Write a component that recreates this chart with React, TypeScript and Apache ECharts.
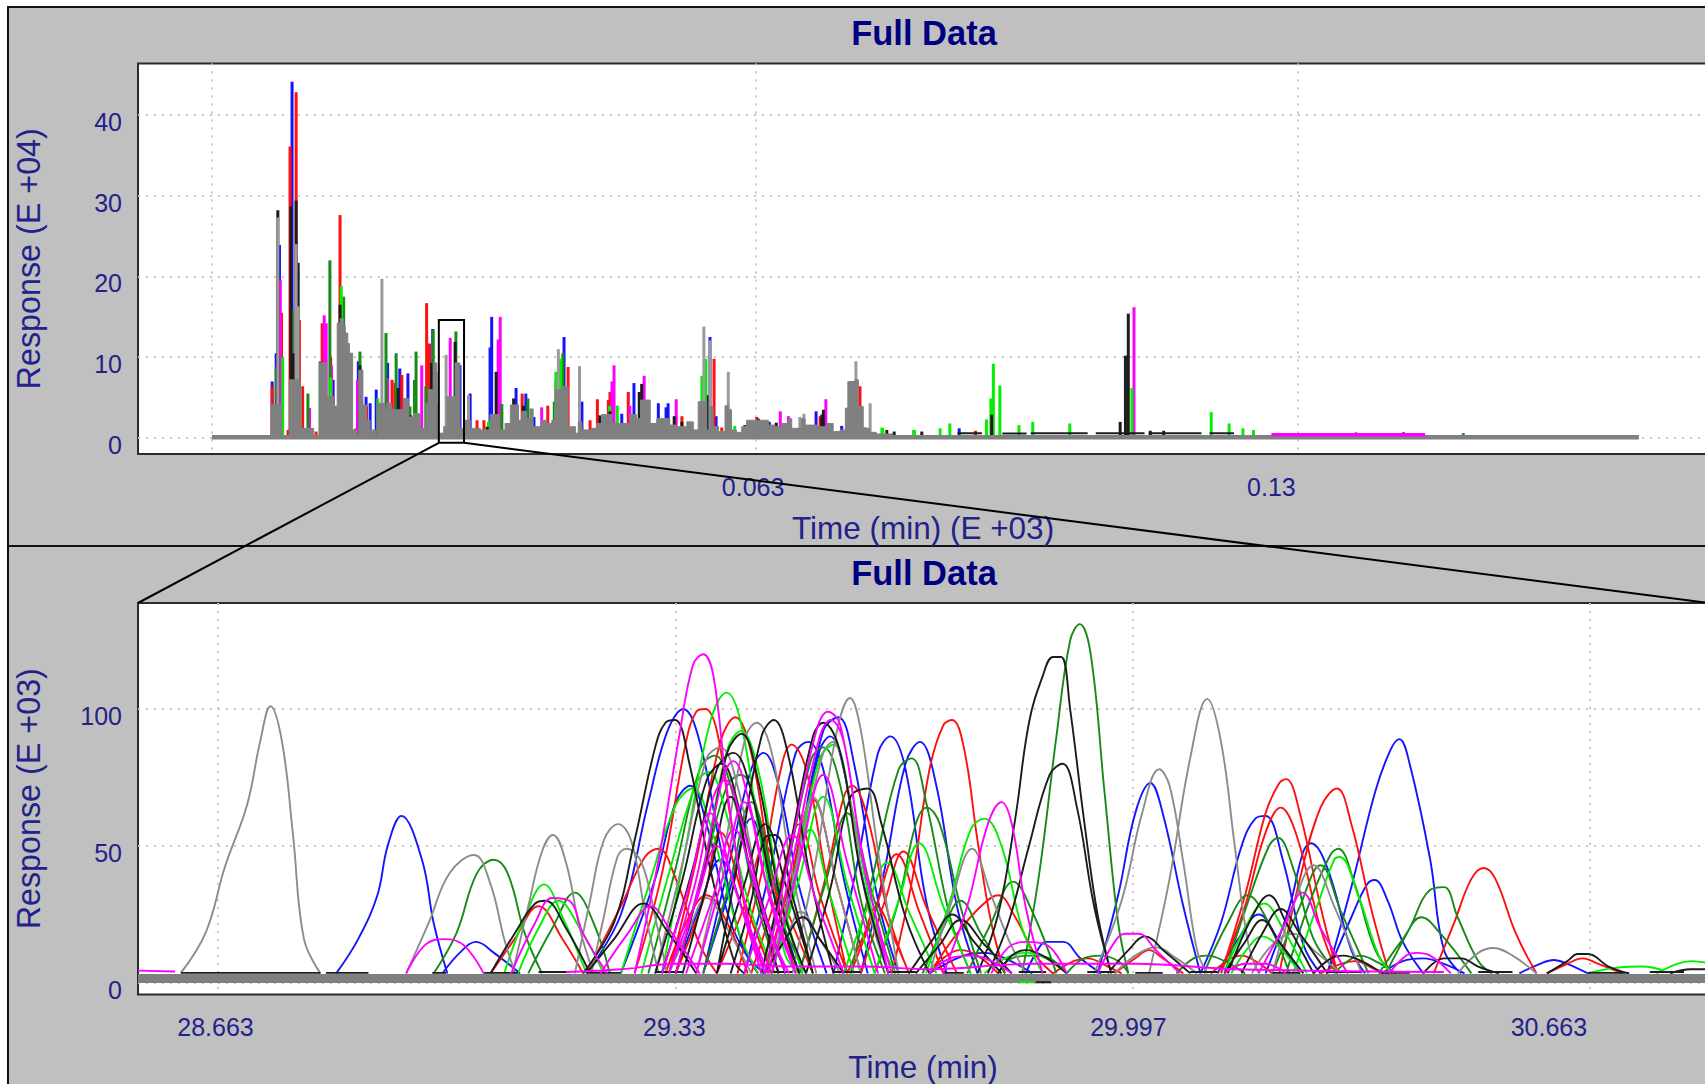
import React, { useEffect, useRef } from "react";
import * as echarts from "echarts";

type Pt = [number, number];

// ---------- upper plot: time in minutes, response in E+04 ----------
const topXTicks = [-3.7, 63.2, 129.9];
const topXLabelAt = [62.85, 126.6];
const topXLabels = ["0.063", "0.13"];
const topYTicks = [0, 10, 20, 30, 40];
const topYLabelAt = [-0.85, 9.15, 19.15, 29.15, 39.15];
const topYLabels = ["0", "10", "20", "30", "40"];
const zoomWindow = { x0: 24.2, x1: 27.3, y0: -0.6, y1: 14.6 };

const topBlue: Pt[] = [[3.7,7],[4.2,10.5],[4.6,23.9],[6.15,44.1],[14.3,9.5],[11.2,7.2],[17.9,9.3],[16.5,6],[19.4,8.6],[20.4,8],[23.45,13.5],[26.8,9],[15.75,4.3],[15.25,5.1],[28.05,5.5],[30.7,15],[30.5,11.2],[33.7,6.2],[34.9,5.5],[35.9,2.6],[39.6,12.5],[41.8,4.5],[48.2,6.8],[51.2,4.3],[52.15,3.8],[52.4,4.3],[46.7,3],[57.55,12.5],[58.3,2.7],[70.6,3.3],[64.85,2],[73.75,1.5],[88.2,1.2]];
const topRed: Pt[] = [[3.7,6.4],[4.85,15.5],[5.9,36.1],[6.65,42.8],[7.05,14.6],[7.45,6.4],[9.85,14.2],[12.05,27.6],[10.9,10],[22.7,16.7],[23.05,11.7],[18.45,7.2],[19.65,7.8],[18.8,6.8],[5.65,1],[13.5,1],[14,1.2],[15.3,3.9],[9.1,0.8],[24,2.9],[28.9,2.2],[29.75,2.2],[34.45,5.5],[37.6,4],[40.1,8.8],[43.7,4.8],[47.5,5.7],[45.05,4.7],[45.25,5.7],[42.8,2.2],[54.1,2.7],[58.05,9.8],[59,1.3],[76,6.4],[63.3,2.6],[71.1,2.7],[90.2,0.9]];
const topMagenta: Pt[] = [[4.7,19.6],[10.1,15.2],[10.35,14.2],[11,9],[8.3,3.7],[14.2,7.2],[14.7,8.4],[17.9,7.4],[22.1,9],[25.6,12.4],[6.8,16.3],[31.75,15],[31.5,12.2],[36.85,3.8],[38.6,7.2],[45.75,9],[45.5,7],[47.7,4],[49.45,7.7],[53.4,4.8],[60,3.6],[66.2,3.3],[67.2,2.7],[71.8,4.8],[76.4,1.3],[76.7,1.3],[109.7,16.2]];
const topGreen: Pt[] = [[4.2,8.8],[6.15,15.9],[8.1,5.5],[9.6,9.5],[10.8,22],[12.5,17.5],[14.5,10.7],[17.7,13],[18.95,10.5],[21.4,10.7],[21.2,7.2],[20.65,3.9],[22.6,6.4],[23.5,13.4],[23.85,8.2],[26.3,13.2],[31.95,4.2],[38.4,4.5],[39.45,10.5],[39.05,9.8],[35.15,4.9],[57.75,2.9],[75,5.5],[137,0.7],[150.2,0.6]];
const topLime: Pt[] = [[5,10],[11.55,4],[12.2,18.8],[10.9,7.5],[16.7,4.9],[30.3,2],[38.6,8.2],[39.2,9.8],[45.2,4],[46.15,4],[56.55,7.7],[57.05,9.8],[60.6,1.5],[74.8,5.5],[78.7,1.3],[82.6,1],[92.4,9.2],[92.1,4.9],[93.2,6.5],[91.55,2.3],[87.05,1.8],[85.85,1.2],[97.25,2],[95.55,1.6],[101.8,1.8],[109.45,6.2],[119.2,3.2],[121.4,1.8],[124.4,1],[123.1,1.2],[78.8,1.2],[82.7,1]];
const topBlack: Pt[] = [[4.4,28.2],[6,28.7],[6.65,29.4],[6.9,21.7],[6.3,10.5],[14.5,9],[16.8,4.1],[12.05,16.5],[17.45,4.1],[20.15,4.7],[19.2,6.2],[20.75,2.8],[23.3,9.3],[26.2,11.9],[27.55,2.2],[31.25,8.2],[33.4,4.9],[34.6,4],[49.15,6.7],[48.85,5.7],[44,2.8],[45.25,3.3],[53.15,2.7],[54.1,2],[30.15,1.4],[57.35,5.3],[61.85,1.6],[63.5,2.4],[65.7,1.9],[66.9,1.5],[71.5,3.5],[71.3,2.9],[70.1,1],[76.2,1],[79.3,1],[80.2,0.8],[83.6,0.8],[109,15.4],[108.65,10.2],[92.2,2.9],[111.7,0.9],[113.35,0.9],[108,2],[142.85,0.7]];
const topGreySticks: Pt[] = [[4.4,27.3],[6.65,24],[6.9,16.3],[17.2,19.7],[25.1,10.3],[27.85,5.3],[56.8,13.8],[57.55,12.1],[41.5,8.9],[38.9,11],[59.8,8.2],[69.1,3],[68.6,2.6],[74.6,7],[75.5,9.5],[77.25,4.3]];
const topGreyEnvelope: Pt[] = [[3.5,4.1],[4.9,0.3],[5.8,7.2],[7.1,6.4],[7.3,1.2],[8.8,0.3],[9.5,9.3],[10.4,5.1],[11.3,3.9],[11.7,14.2],[12.05,14.8],[12.5,13.8],[12.7,13],[13,11.7],[13.2,10.5],[13.6,1],[14.1,0.3],[14.35,8.4],[14.85,4.1],[15.3,2.2],[15.75,1],[16.4,0.3],[16.6,4.3],[17.6,3.5],[17.8,4.3],[18.4,3.5],[19.85,4.9],[20.5,2.6],[21.1,3],[21.9,1.2],[22.6,4.3],[22.9,6],[23.5,9.3],[23.95,4.3],[24.15,0.6],[24.8,1.4],[25.2,5.1],[26.2,9.3],[26.8,1.2],[27.4,2.2],[28.05,1.2],[29.3,1],[30.5,2.9],[31.7,1],[32.35,1.8],[33,4.1],[34,2.2],[34.4,3.3],[35,2.4],[35.4,3.6],[35.8,1.4],[36.85,2.2],[37.5,1.8],[38.1,2.2],[38.5,6],[39.3,6.4],[40.1,1.4],[41,0.6],[41.35,2],[41.8,1],[43,1.2],[43.6,1.8],[44.2,2.9],[45.5,1.8],[47.7,2.9],[48.5,2.4],[49,4.7],[50.2,1.8],[51,2.4],[52.6,1.6],[53.5,1.4],[54.7,2],[55.5,1],[56.1,4.5],[57.15,1],[57.55,3.9],[57.95,1.4],[58.6,0.8],[59.4,4],[59.8,3.4],[60.2,1],[60.8,0.7],[61.45,1.4],[62.05,2.2],[64.75,1.6],[65.55,1.4],[66.4,1.8],[67.2,2.4],[67.6,1.2],[68.8,2.4],[69.25,1.6],[70.7,1.4],[71.9,1.8],[72.7,0.8],[73.55,1],[74.2,3.7],[74.6,7],[75.4,7.2],[75.8,3.9],[76.4,1.2],[77.2,0.7],[78,0.5],[80,0.3]];
const topGreyBaseline: Pt[] = [[-3.7,0.1],[171.8,0.1]];
const topMagentaBaseline: Pt[] = [[126.6,0.4],[145.5,0.4]];
const topBlackBaseline: Pt[][] = [[[88,0.6],[91,0.6]],[[93.5,0.55],[96.5,0.55]],[[97,0.6],[104,0.6]],[[105,0.6],[111,0.6]],[[111.5,0.6],[118,0.6]],[[119,0.6],[122,0.6]]];

// ---------- lower plot: time in minutes, response in E+03 ----------
const lowXTicks = [28.663, 29.33, 29.997, 30.663];
const lowXLabelAt = [28.659, 29.328, 29.99, 30.603];
const lowXLabels = ["28.663", "29.33", "29.997", "30.663"];
const lowYTicks = [0, 50, 100];
const lowYLabelAt = [-2.6, 47.4, 97.4];
const lowYLabels = ["0", "50", "100"];

const lowBlue: Pt[][] = [
  [[28.835,3.5],[28.867,16],[28.895,32],[28.91,50],[28.93,61],[28.96,45],[28.977,22],[28.997,3.5]],
  [[28.99,3.5],[29.015,11],[29.039,15],[29.065,11],[29.103,3.5]],
  [[29.2,3.5],[29.25,25],[29.29,66],[29.318,92],[29.341,100],[29.365,88],[29.395,50],[29.43,12],[29.46,3.5]],
  [[29.25,3.5],[29.3,38],[29.33,66],[29.351,72],[29.375,58],[29.41,22],[29.45,3.5]],
  [[29.37,3.5],[29.41,46],[29.44,78],[29.458,84],[29.48,72],[29.51,35],[29.55,3.5]],
  [[29.43,3.5],[29.47,44],[29.505,84],[29.523,88],[29.545,78],[29.575,38],[29.61,3.5]],
  [[29.47,3.5],[29.51,50],[29.545,92],[29.567,97],[29.59,80],[29.625,30],[29.655,3.5]],
  [[29.47,3.5],[29.515,55],[29.54,85],[29.555,90],[29.575,78],[29.605,35],[29.64,3.5]],
  [[29.56,3.5],[29.595,44],[29.625,84],[29.643,90],[29.665,78],[29.695,30],[29.725,3.5]],
  [[29.6,3.5],[29.635,42],[29.665,80],[29.686,88],[29.71,72],[29.74,28],[29.77,3.5]],
  [[29.33,3.5],[29.365,28],[29.395,45],[29.43,25],[29.46,3.5]],
  [[29.37,3.5],[29.41,35],[29.44,60],[29.47,35],[29.51,3.5]],
  [[29.7,3.5],[29.75,10],[29.78,11],[29.81,9],[29.85,3.5]],
  [[29.84,3.5],[29.86,13],[29.87,15],[29.895,15],[29.92,9],[29.95,3.5]],
  [[29.945,3.5],[29.975,32],[30,62],[30.022,73],[30.04,62],[30.07,28],[30.095,3.5]],
  [[30.095,3.5],[30.125,22],[30.155,50],[30.175,60],[30.19,61],[30.215,45],[30.245,14],[30.27,3.5]],
  [[30.19,3.5],[30.225,28],[30.245,48],[30.256,51],[30.28,42],[30.315,12],[30.335,3.5]],
  [[30.28,3.5],[30.315,35],[30.35,70],[30.372,85],[30.385,89],[30.4,80],[30.43,45],[30.45,12],[30.475,3.5]],
  [[30.28,3.5],[30.315,24],[30.338,36],[30.349,37.6],[30.368,30],[30.39,15],[30.42,3.5]],
  [[30.12,3.5],[30.15,16],[30.18,25],[30.21,15],[30.24,3.5]],
  [[30.36,3.5],[30.39,8],[30.42,9],[30.45,7],[30.48,3.5]],
  [[30.56,3.5],[30.59,7],[30.61,8.4],[30.63,7],[30.66,3.5]],
];
const lowRed: Pt[][] = [
  [[29.06,3.5],[29.095,16],[29.13,28],[29.165,16],[29.195,3.5]],
  [[29.2,3.5],[29.25,28],[29.285,46],[29.305,49],[29.33,38],[29.365,14],[29.39,3.5]],
  [[29.27,3.5],[29.31,40],[29.345,88],[29.36,99],[29.373,100],[29.39,92],[29.41,60],[29.445,12],[29.47,3.5]],
  [[29.32,3.5],[29.36,45],[29.395,88],[29.417,97],[29.44,84],[29.47,40],[29.505,3.5]],
  [[29.315,3.5],[29.345,22],[29.375,32],[29.405,22],[29.435,3.5]],
  [[29.42,3.5],[29.455,40],[29.485,80],[29.499,87],[29.52,78],[29.55,38],[29.58,3.5]],
  [[29.46,3.5],[29.495,35],[29.53,67],[29.565,36],[29.6,3.5]],
  [[29.51,3.5],[29.55,40],[29.575,68],[29.587,72],[29.61,60],[29.64,25],[29.67,3.5]],
  [[29.58,3.5],[29.605,18],[29.623,28],[29.645,18],[29.67,3.5]],
  [[29.585,3.5],[29.62,26],[29.652,47],[29.685,26],[29.72,3.5]],
  [[29.6,3.5],[29.635,30],[29.662,48],[29.695,28],[29.74,3.5]],
  [[29.645,3.5],[29.675,38],[29.7,78],[29.72,94],[29.733,96],[29.75,86],[29.77,52],[29.79,22],[29.81,3.5]],
  [[29.7,3.5],[29.74,18],[29.775,28],[29.8,32],[29.825,24],[29.855,10],[29.88,3.5]],
  [[29.7,3.5],[29.725,10],[29.745,12],[29.77,10],[29.8,3.5]],
  [[29.39,3.5],[29.43,28],[29.46,50],[29.49,28],[29.53,3.5]],
  [[29.33,3.5],[29.37,30],[29.395,55],[29.43,30],[29.47,3.5]],
  [[29.44,3.5],[29.48,34],[29.51,58],[29.54,32],[29.58,3.5]],
  [[29.88,3.5],[29.91,8],[29.93,9],[29.96,6],[29.98,3.5]],
  [[29.97,3.5],[30,9],[30.02,12],[30.04,9],[30.07,3.5]],
  [[30.11,3.5],[30.14,9],[30.154,10],[30.175,8],[30.2,3.5]],
  [[30.125,3.5],[30.16,32],[30.19,62],[30.21,73],[30.22,74.4],[30.24,62],[30.27,28],[30.295,3.5]],
  [[30.125,3.5],[30.16,28],[30.19,55],[30.212,64],[30.235,54],[30.27,20],[30.295,3.5]],
  [[30.21,3.5],[30.24,38],[30.27,64],[30.294,71],[30.315,58],[30.345,26],[30.37,3.5]],
  [[30.27,3.5],[30.3,7],[30.32,8],[30.35,5],[30.37,3.5]],
  [[30.435,3.5],[30.465,22],[30.49,38],[30.508,42],[30.525,38],[30.555,18],[30.585,3.5]],
  [[30.6,3.5],[30.63,7],[30.652,9],[30.675,7],[30.71,3.5]],
];
const lowGreen: Pt[][] = [
  [[28.977,3.5],[29.01,18],[29.04,40],[29.065,45],[29.085,40],[29.11,18],[29.135,3.5]],
  [[29.115,3.5],[29.15,20],[29.183,33],[29.21,22],[29.234,3.5]],
  [[29.29,3.5],[29.33,42],[29.365,78],[29.387,83],[29.41,72],[29.445,32],[29.48,3.5]],
  [[29.33,3.5],[29.375,45],[29.405,72],[29.425,76],[29.45,62],[29.48,26],[29.52,3.5]],
  [[29.37,3.5],[29.41,38],[29.44,66],[29.475,36],[29.515,3.5]],
  [[29.455,3.5],[29.495,45],[29.528,82],[29.545,86],[29.57,72],[29.6,30],[29.635,3.5]],
  [[29.51,3.5],[29.55,38],[29.58,62],[29.615,34],[29.65,3.5]],
  [[29.585,3.5],[29.62,42],[29.655,78],[29.674,82],[29.695,66],[29.73,24],[29.76,3.5]],
  [[29.62,3.5],[29.655,30],[29.68,58],[29.696,64],[29.715,58],[29.745,28],[29.775,3.5]],
  [[29.69,3.5],[29.72,20],[29.745,30],[29.775,18],[29.81,3.5]],
  [[29.755,3.5],[29.79,22],[29.822,37],[29.85,26],[29.885,3.5]],
  [[29.835,3.5],[29.86,40],[29.885,90],[29.905,125],[29.919,131],[29.935,120],[29.955,70],[29.975,22],[29.99,3.5]],
  [[29.8,3.5],[29.82,9],[29.85,10],[29.875,9],[29.9,3.5]],
  [[29.9,3.5],[29.925,9],[29.95,10],[29.975,8],[29.99,3.5]],
  [[30.06,3.5],[30.085,9],[30.105,10],[30.13,8],[30.16,3.5]],
  [[30.1,3.5],[30.135,22],[30.164,32],[30.19,24],[30.225,3.5]],
  [[30.13,3.5],[30.165,30],[30.195,50],[30.208,53],[30.23,42],[30.26,16],[30.295,3.5]],
  [[30.2,3.5],[30.24,28],[30.27,43],[30.3,26],[30.34,3.5]],
  [[30.22,3.5],[30.255,30],[30.285,47],[30.296,49],[30.32,36],[30.35,12],[30.375,3.5]],
  [[30.29,3.5],[30.31,8],[30.328,10],[30.35,8],[30.38,3.5]],
  [[30.365,3.5],[30.4,20],[30.43,34],[30.45,35],[30.47,24],[30.5,8],[30.52,3.5]],
  [[30.355,3.5],[30.39,16],[30.417,24],[30.445,18],[30.49,3.5]],
];
const lowLime: Pt[][] = [
  [[29.08,3.5],[29.11,24],[29.138,36],[29.165,24],[29.2,3.5]],
  [[29.1,3.5],[29.13,20],[29.159,30],[29.19,20],[29.225,3.5]],
  [[29.25,3.5],[29.29,35],[29.33,65],[29.355,71],[29.38,58],[29.42,20],[29.45,3.5]],
  [[29.28,3.5],[29.32,40],[29.36,73],[29.378,77],[29.4,65],[29.44,26],[29.475,3.5]],
  [[29.31,3.5],[29.345,50],[29.38,95],[29.404,106],[29.425,95],[29.455,50],[29.49,10],[29.51,3.5]],
  [[29.33,3.5],[29.37,42],[29.405,85],[29.425,92],[29.45,78],[29.48,36],[29.515,3.5]],
  [[29.47,3.5],[29.5,32],[29.526,56],[29.555,32],[29.59,3.5]],
  [[29.47,3.5],[29.51,38],[29.545,68],[29.58,36],[29.62,3.5]],
  [[29.47,3.5],[29.51,48],[29.54,82],[29.56,87],[29.585,66],[29.62,22],[29.65,3.5]],
  [[29.575,3.5],[29.61,28],[29.638,44],[29.67,26],[29.71,3.5]],
  [[29.62,3.5],[29.655,30],[29.685,51],[29.72,28],[29.76,3.5]],
  [[29.695,3.5],[29.73,30],[29.76,56],[29.78,60],[29.805,50],[29.835,20],[29.865,3.5]],
  [[29.78,3.5],[29.81,9],[29.84,11],[29.87,9],[29.9,3.5]],
  [[30.13,3.5],[30.16,20],[30.188,29],[30.215,20],[30.25,3.5]],
  [[30.14,3.5],[30.165,13],[30.185,17],[30.21,13],[30.24,3.5]],
  [[30.23,3.5],[30.265,28],[30.29,45],[30.298,46],[30.325,32],[30.355,10],[30.375,3.5]],
  [[30.66,3.5],[30.7,5.5],[30.74,6],[30.77,4.5]],
  [[30.76,3.5],[30.79,7],[30.81,8],[30.83,7.5],[30.845,7]],
];
const lowBlack: Pt[][] = [
  [[29.06,3.5],[29.095,18],[29.125,29],[29.14,30],[29.17,20],[29.205,3.5]],
  [[29.2,3.5],[29.24,16],[29.283,29],[29.32,18],[29.36,3.5]],
  [[29.195,3.5],[29.24,22],[29.27,52],[29.3,86],[29.315,95],[29.329,96],[29.35,80],[29.38,42],[29.415,8],[29.43,3.5]],
  [[29.3,3.5],[29.34,38],[29.375,74],[29.397,80],[29.42,66],[29.455,30],[29.49,3.5]],
  [[29.31,3.5],[29.355,42],[29.39,78],[29.414,84],[29.44,70],[29.475,30],[29.51,3.5]],
  [[29.33,3.5],[29.375,46],[29.405,84],[29.426,91],[29.45,74],[29.485,28],[29.52,3.5]],
  [[29.34,3.5],[29.38,40],[29.41,68],[29.44,40],[29.48,3.5]],
  [[29.39,3.5],[29.43,36],[29.46,58],[29.49,36],[29.53,3.5]],
  [[29.39,3.5],[29.425,50],[29.455,90],[29.473,96],[29.495,82],[29.525,40],[29.56,3.5]],
  [[29.41,3.5],[29.44,30],[29.46,53],[29.475,54],[29.5,32],[29.53,3.5]],
  [[29.455,3.5],[29.495,48],[29.53,90],[29.545,95],[29.57,84],[29.6,40],[29.64,3.5]],
  [[29.46,3.5],[29.49,16],[29.515,24],[29.54,16],[29.575,3.5]],
  [[29.52,3.5],[29.555,34],[29.585,68],[29.61,71],[29.63,58],[29.665,24],[29.7,3.5]],
  [[29.67,3.5],[29.705,16],[29.733,25],[29.765,15],[29.805,3.5]],
  [[29.68,3.5],[29.715,14],[29.745,23],[29.78,14],[29.82,3.5]],
  [[29.77,3.5],[29.8,25],[29.825,60],[29.845,95],[29.865,112],[29.88,119],[29.892,119],[29.905,100],[29.925,60],[29.945,25],[29.965,3.5]],
  [[29.785,3.5],[29.815,22],[29.845,50],[29.875,76],[29.894,80],[29.915,64],[29.94,28],[29.965,3.5]],
  [[29.8,3.5],[29.82,10],[29.84,12],[29.865,10],[29.9,3.5]],
  [[29.96,3.5],[29.99,12],[30.014,17],[30.045,11],[30.08,3.5]],
  [[30.135,3.5],[30.17,24],[30.195,32],[30.22,22],[30.26,3.5]],
  [[30.155,3.5],[30.185,18],[30.212,27],[30.24,18],[30.28,3.5]],
  [[30.13,3.5],[30.16,15],[30.185,23],[30.21,15],[30.245,3.5]],
  [[30.26,3.5],[30.285,9],[30.303,10],[30.33,8],[30.36,3.5]],
  [[30.42,3.5],[30.45,9],[30.475,9],[30.5,6],[30.53,3.5]],
  [[30.6,3.5],[30.63,8],[30.645,10.6],[30.66,10.6],[30.69,6],[30.72,3.5]],
  [[30.78,3.5],[30.81,5],[30.845,5]],
  [[28.609,3.7],[28.812,3.7]],[[28.82,3.7],[28.882,3.7]],[[28.975,3.7],[28.995,3.7]],[[29.05,3.7],[29.1,3.7]],[[29.2,3.7],[29.25,3.7]],[[29.72,3.7],[29.75,3.7]],[[30,3.7],[30.04,3.7]],[[30.2,3.7],[30.24,3.7]],[[30.36,3.7],[30.4,3.7]],[[30.66,3.7],[30.72,3.7]],
  [[29.13,4],[29.17,4]],[[29.3,4],[29.34,4]],[[29.47,4],[29.5,4]],[[29.56,4],[29.6,4]],[[29.64,4],[29.68,4]],[[29.83,4],[29.87,4]],[[29.93,4],[29.97,4]],[[30.08,4],[30.12,4]],[[30.28,4],[30.33,4]],[[30.5,4],[30.55,4]],[[30.75,4],[30.8,4]],
];
const lowGrey: Pt[][] = [
  [[28.608,3.5],[28.645,18.6],[28.673,42.6],[28.705,65],[28.724,88],[28.739,101],[28.756,88],[28.772,54],[28.788,16],[28.812,3.5]],
  [[28.937,3.5],[28.97,22],[29,40],[29.036,46.7],[29.06,36],[29.08,16],[29.096,3.5]],
  [[29.092,3.5],[29.115,28],[29.135,48],[29.151,54],[29.17,44],[29.19,20],[29.21,3.5]],
  [[29.183,3.5],[29.205,30],[29.225,52],[29.246,58],[29.265,52],[29.285,26],[29.305,3.5]],
  [[29.207,3.5],[29.225,24],[29.245,46],[29.258,49],[29.28,44],[29.3,24],[29.317,3.5]],
  [[29.3,3.5],[29.34,44],[29.375,82],[29.395,86],[29.42,72],[29.455,30],[29.49,3.5]],
  [[29.36,3.5],[29.4,48],[29.432,90],[29.448,95],[29.47,84],[29.5,40],[29.535,3.5]],
  [[29.32,3.5],[29.35,20],[29.375,31],[29.405,20],[29.44,3.5]],
  [[29.465,3.5],[29.5,36],[29.53,68],[29.565,36],[29.6,3.5]],
  [[29.46,3.5],[29.49,16],[29.512,26],[29.54,16],[29.57,3.5]],
  [[29.47,3.5],[29.51,46],[29.545,84],[29.559,88],[29.58,72],[29.61,28],[29.64,3.5]],
  [[29.5,3.5],[29.535,46],[29.565,92],[29.584,104],[29.6,92],[29.625,48],[29.655,3.5]],
  [[29.7,3.5],[29.73,28],[29.762,49],[29.79,32],[29.815,16],[29.84,3.5]],
  [[29.97,3.5],[30,10],[30.03,13],[30.06,9],[30.09,3.5]],
  [[29.94,3.5],[29.98,30],[30.01,62],[30.035,78],[30.05,72],[30.07,44],[30.09,12],[30.105,3.5]],
  [[30.02,3.5],[30.05,38],[30.08,82],[30.105,103.7],[30.125,88],[30.145,50],[30.165,14],[30.18,3.5]],
  [[30.17,3.5],[30.2,14],[30.23,18],[30.26,12],[30.3,3.5]],
  [[30.2,3.5],[30.23,28],[30.26,43],[30.29,28],[30.33,3.5]],
  [[30.47,3.5],[30.5,11],[30.522,12.8],[30.55,10],[30.585,3.5]],
];
const lowMagenta: Pt[][] = [
  [[28.546,4.5],[28.6,4.2]],
  [[28.937,3.5],[28.965,14],[28.993,16],[29.02,14],[29.05,3.5]],
  [[29.09,3.5],[29.125,22],[29.15,31],[29.175,30],[29.195,18],[29.23,3.5]],
  [[29.22,3.5],[29.26,18],[29.293,28],[29.325,18],[29.365,3.5]],
  [[29.27,3.5],[29.305,45],[29.335,90],[29.355,116],[29.37,120],[29.385,112],[29.405,70],[29.435,24],[29.46,3.5]],
  [[29.32,3.5],[29.36,38],[29.385,68],[29.402,74],[29.425,60],[29.46,24],[29.495,3.5]],
  [[29.33,3.5],[29.37,42],[29.4,76],[29.414,81],[29.435,68],[29.47,28],[29.505,3.5]],
  [[29.31,3.5],[29.35,36],[29.38,62],[29.415,36],[29.455,3.5]],
  [[29.345,3.5],[29.385,32],[29.415,56],[29.45,32],[29.49,3.5]],
  [[29.36,3.5],[29.4,40],[29.43,66],[29.46,38],[29.505,3.5]],
  [[29.32,3.5],[29.36,30],[29.39,50],[29.425,28],[29.465,3.5]],
  [[29.43,3.5],[29.465,30],[29.5,54],[29.535,30],[29.575,3.5]],
  [[29.46,3.5],[29.5,52],[29.535,92],[29.552,99],[29.57,94],[29.6,50],[29.64,3.5]],
  [[29.465,3.5],[29.505,50],[29.54,90],[29.556,96],[29.575,88],[29.605,42],[29.645,3.5]],
  [[29.47,3.5],[29.51,44],[29.545,76],[29.58,44],[29.625,3.5]],
  [[29.7,3.5],[29.73,9],[29.76,10],[29.79,8],[29.82,3.5]],
  [[29.72,3.5],[29.755,28],[29.785,58],[29.805,66],[29.82,58],[29.84,28],[29.865,3.5]],
  [[29.79,3.5],[29.815,13],[29.84,15],[29.87,14],[29.9,3.5]],
  [[29.945,3.5],[29.97,15],[29.985,18],[30.005,18],[30.03,12],[30.065,3.5]],
  [[30.13,3.5],[30.16,7],[30.19,7],[30.22,3.5]],
  [[30.18,3.5],[30.215,20],[30.244,33],[30.27,20],[30.31,3.5]],
  [[30.37,3.5],[30.395,10],[30.41,11],[30.43,10],[30.46,3.5]],
  [[29.17,4],[29.25,5],[29.33,7],[29.4,7],[29.5,6],[29.6,6],[29.7,5],[29.85,7],[30,7],[30.15,5],[30.45,4]],
];
const lowBand: Pt[] = [[28.546,1.6],[30.835,1.6]];
const lowUnderLime: Pt[] = [[29.83,0.3],[29.853,0.3]];
const lowUnderBlack: Pt[] = [[29.855,0.3],[29.877,0.3]];

const C = {
  panel: "#c0c0c0", frame: "#2b2b2b", text: "#22228a", title: "#000080",
  blue: "#1414ff", red: "#ff1010", magenta: "#ff00ff", green: "#178a17", lime: "#00f000", black: "#1c1c1c", grey: "#8c8c8c", fill: "#808080",
};
const FONT = "Liberation Sans";

const breakUp = (peaks: Pt[][]) =>
  peaks.flatMap((p) => [...p, [p[p.length - 1][0], null] as any]);

const stickSeries = (data: Pt[], color: string) => ({
  type: "bar", xAxisIndex: 0, yAxisIndex: 0, data, barWidth: 3, barGap: "-100%",
  itemStyle: { color }, silent: true,
});
const traceSeries = (xi: number, data: any[], color: string, width: number, smooth: boolean | number, z = 2) => ({
  type: "line", xAxisIndex: xi, yAxisIndex: xi, data, showSymbol: false, symbol: "none",
  smooth, connectNulls: false, z, silent: true, lineStyle: { color, width },
});

const gridLine = { show: true, lineStyle: { color: "#c6c6c6", width: 2, type: [2, 6] as number[] } };

function xAxis(gridIndex: number, min: number, max: number, ticks: number[], at: number[], labels: string[], name: string, nameGap: number) {
  return {
    type: "value", gridIndex, min, max, name, nameLocation: "middle", nameGap,
    nameTextStyle: { color: C.text, fontFamily: FONT, fontSize: 31.5 },
    axisLine: { show: false, onZero: false },
    axisTick: { show: false, customValues: ticks },
    splitLine: gridLine,
    axisLabel: {
      show: true, customValues: at, margin: 20, color: C.text, fontFamily: FONT, fontSize: 25,
      hideOverlap: false, showMinLabel: true, showMaxLabel: true,
      formatter: (v: number) => labels[at.indexOf(v)] ?? "",
    },
  };
}
function yAxis(gridIndex: number, min: number, max: number, ticks: number[], at: number[], labels: string[], name: string) {
  return {
    type: "value", gridIndex, min, max, name, nameLocation: "middle", nameGap: 93,
    nameTextStyle: { color: C.text, fontFamily: FONT, fontSize: 32.3 },
    axisLine: { show: false, onZero: false },
    axisTick: { show: false, customValues: ticks },
    splitLine: gridLine,
    axisLabel: {
      show: true, customValues: at, margin: 16, color: C.text, fontFamily: FONT, fontSize: 25,
      hideOverlap: false, showMinLabel: true, showMaxLabel: true,
      formatter: (v: number) => labels[at.indexOf(v)] ?? "",
    },
  };
}

const titleAt = (top: number) => ({
  text: "Full Data", left: 919, top, textAlign: "center",
  textStyle: { color: C.title, fontFamily: FONT, fontWeight: "bold", fontSize: 34.5 },
});

export default function App() {
  const ref = useRef<HTMLDivElement>(null);
  useEffect(() => {
    if (!ref.current) return;
    const chart = echarts.init(ref.current, undefined, { renderer: "svg" });
    const panels = [
      { type: "rect", id: "p1", z: -1, shape: { x: 8, y: 7, width: 1705, height: 539 }, style: { fill: C.panel, stroke: "#111", lineWidth: 2 } },
      { type: "rect", id: "p2", z: -1, shape: { x: 8, y: 546, width: 1705, height: 545 }, style: { fill: C.panel, stroke: "#111", lineWidth: 2 } },
    ];
    chart.setOption({
      animation: false,
      backgroundColor: "#ffffff",
      title: [titleAt(10), titleAt(550)],
      grid: [
        { left: 138, top: 63.6, width: 1570, height: 390.4, show: true, backgroundColor: "#ffffff", borderColor: C.frame, borderWidth: 2, outerBoundsMode: "none" },
        { left: 138, top: 603, width: 1570, height: 391.5, show: true, backgroundColor: "#ffffff", borderColor: C.frame, borderWidth: 2, outerBoundsMode: "none" },
      ],
      xAxis: [
        xAxis(0, -12.8, 180.3, topXTicks, topXLabelAt, topXLabels, "Time (min) (E +03)", 58),
        xAxis(1, 28.546, 30.835, lowXTicks, lowXLabelAt, lowXLabels, "Time (min)", 56),
      ],
      yAxis: [
        yAxis(0, -1.98, 46.36, topYTicks, topYLabelAt, topYLabels, "Response (E +04)"),
        yAxis(1, -4.2, 138.7, lowYTicks, lowYLabelAt, lowYLabels, "Response (E +03)"),
      ],
      series: [
        stickSeries(topBlue, C.blue),
        stickSeries(topRed, C.red),
        stickSeries(topMagenta, C.magenta),
        stickSeries(topGreen, C.green),
        stickSeries(topLime, C.lime),
        stickSeries(topBlack, C.black),
        stickSeries(topGreySticks, "#9a9a9a"),
        { ...traceSeries(0, topGreyEnvelope, C.fill, 1, false, 3), step: "end", areaStyle: { color: C.fill, opacity: 1 } },
        traceSeries(0, topGreyBaseline, C.fill, 4.5, false, 4),
        traceSeries(0, breakUp(topBlackBaseline), C.black, 2, false, 5),
        traceSeries(0, topMagentaBaseline, C.magenta, 3.5, false, 5),

        traceSeries(1, breakUp(lowBlue), C.blue, 1.9, 0.4),
        traceSeries(1, breakUp(lowRed), C.red, 1.9, 0.4),
        traceSeries(1, breakUp(lowGreen), C.green, 1.9, 0.4),
        traceSeries(1, breakUp(lowLime), C.lime, 1.9, 0.4),
        traceSeries(1, breakUp(lowGrey), C.grey, 1.9, 0.4),
        traceSeries(1, breakUp(lowBlack), C.black, 1.9, 0.4),
        traceSeries(1, breakUp(lowMagenta), C.magenta, 1.9, 0.4),
        traceSeries(1, lowBand, C.fill, 9, false, 4),
        traceSeries(1, lowUnderLime, C.lime, 2, false, 5),
        traceSeries(1, lowUnderBlack, C.black, 2, false, 5),
      ],
    });
    const a = chart.convertToPixel({ gridIndex: 0 }, [zoomWindow.x0, zoomWindow.y1]) as number[];
    const b = chart.convertToPixel({ gridIndex: 0 }, [zoomWindow.x1, zoomWindow.y0]) as number[];
    const lo = chart.getModel().getComponent("grid", 1).coordinateSystem.getRect();
    const line = (id: string, x1: number, y1: number, x2: number, y2: number) => ({
      type: "line", id, z: 60, silent: true, shape: { x1, y1, x2, y2 }, style: { stroke: "#000", lineWidth: 2 },
    });
    chart.setOption({
      graphic: [
        ...panels,
        { type: "rect", id: "zw", z: 60, silent: true, shape: { x: a[0], y: a[1], width: b[0] - a[0], height: b[1] - a[1] }, style: { fill: "none", stroke: "#000", lineWidth: 2 } },
        line("c1", a[0], b[1], lo.x, lo.y),
        line("c2", b[0], b[1], lo.x + lo.width, lo.y),
      ],
    });
    return () => chart.dispose();
  }, []);
  return <div ref={ref} style={{ position: "fixed", left: 0, top: 0, width: 1705, height: 1084 }} />;
}
